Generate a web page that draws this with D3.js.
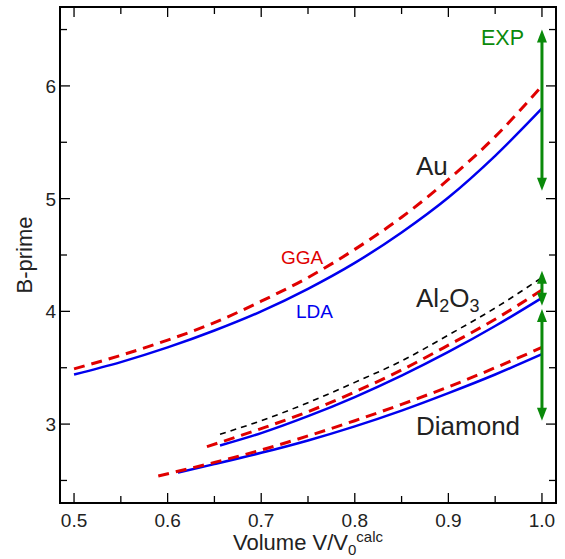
<!DOCTYPE html>
<html>
<head>
<meta charset="utf-8">
<style>
  body { margin: 0; background: #fff; font-family: "Liberation Sans", Arial, sans-serif; }
  .tick-label { font-size: 19px; fill: #222; }
  .axis-title { font-size: 22px; fill: #222; }
</style>
<script src="https://cdn.jsdelivr.net/npm/d3@7"></script>
</head>
<body>
<div id="chart"></div>
<script>
// values
const auX = [0.5, 0.55, 0.6, 0.65, 0.7, 0.75, 0.8, 0.85, 0.9, 0.95, 1.0];
const auLdaY = [3.44, 3.55, 3.68, 3.83, 4.00, 4.20, 4.43, 4.70, 5.01, 5.38, 5.80];
const auGgaY = [3.49, 3.61, 3.745, 3.90, 4.09, 4.30, 4.55, 4.835, 5.17, 5.55, 6.00];

const alLdaX = [0.656, 0.70, 0.75, 0.80, 0.85, 0.90, 0.95, 1.0];
const alLdaY = [2.81, 2.92, 3.07, 3.24, 3.43, 3.64, 3.87, 4.12];
const alGgaX = [0.642, 0.70, 0.75, 0.80, 0.85, 0.90, 0.95, 1.0];
const alGgaY = [2.80, 2.96, 3.11, 3.285, 3.48, 3.70, 3.93, 4.19];
const alBlackX = [0.656, 0.70, 0.75, 0.80, 0.85, 0.90, 0.95, 1.0];
const alBlackY = [2.91, 3.03, 3.19, 3.37, 3.56, 3.79, 4.03, 4.30];

const diaGgaX = [0.59, 0.65, 0.70, 0.75, 0.80, 0.85, 0.90, 0.95, 1.0];
const diaGgaY = [2.54, 2.66, 2.77, 2.895, 3.03, 3.175, 3.33, 3.50, 3.68];
const diaLdaX = [0.611, 0.65, 0.70, 0.75, 0.80, 0.85, 0.90, 0.95, 1.0];
const diaLdaY = [2.57, 2.645, 2.745, 2.855, 2.98, 3.12, 3.275, 3.44, 3.62];

// experimental ranges at V/V0 = 1 (Au, Al2O3, Diamond)
const expLow = [5.07, 4.05, 3.03];
const expHigh = [6.5, 4.36, 4.02];

const xTicks = [0.5, 0.6, 0.7, 0.8, 0.9, 1.0];
const yTicks = [3, 4, 5, 6];

const W = 565, H = 559;
const margin = {left: 60, right: 9, top: 7, bottom: 56};

const x = d3.scaleLinear().domain([0.485, 1.015]).range([margin.left, W - margin.right]);
const y = d3.scaleLinear().domain([2.3, 6.7]).range([H - margin.bottom, margin.top]);

const svg = d3.select('#chart').append('svg')
    .attr('width', W).attr('height', H);

const zip = (xs, ys) => xs.map((v, i) => [v, ys[i]]);
const line = d3.line().x(d => x(d[0])).y(d => y(d[1])).curve(d3.curveMonotoneX);

const blue = '#0000ee', red = '#e00000', green = '#0a8a0a';

const curves = [
  {pts: zip(alBlackX, alBlackY), color: '#000', w: 1.6, dash: '6,5'},
  {pts: zip(auX, auLdaY), color: blue, w: 2.5, dash: null},
  {pts: zip(auX, auGgaY), color: red, w: 3, dash: '11,7'},
  {pts: zip(alLdaX, alLdaY), color: blue, w: 2.5, dash: null},
  {pts: zip(alGgaX, alGgaY), color: red, w: 3, dash: '11,7'},
  {pts: zip(diaLdaX, diaLdaY), color: blue, w: 2.5, dash: null},
  {pts: zip(diaGgaX, diaGgaY), color: red, w: 3, dash: '11,7'}
];

svg.selectAll('path.curve').data(curves).enter().append('path')
    .attr('class', 'curve')
    .attr('d', d => line(d.pts))
    .attr('fill', 'none')
    .attr('stroke', d => d.color)
    .attr('stroke-width', d => d.w)
    .attr('stroke-dasharray', d => d.dash);

// EXP arrows
const headLen = 13, headW = 5;
expLow.forEach((lo, i) => {
  const hi = expHigh[i];
  const ax = x(1.0), yTop = y(hi), yBot = y(lo);
  svg.append('line')
      .attr('x1', ax).attr('x2', ax)
      .attr('y1', yTop + headLen - 1).attr('y2', yBot - headLen + 1)
      .attr('stroke', green).attr('stroke-width', 3);
  svg.append('path')
      .attr('d', `M${ax},${yTop}L${ax - headW},${yTop + headLen}L${ax + headW},${yTop + headLen}Z`)
      .attr('fill', green);
  svg.append('path')
      .attr('d', `M${ax},${yBot}L${ax - headW},${yBot - headLen}L${ax + headW},${yBot - headLen}Z`)
      .attr('fill', green);
});

// frame
const x0 = x.range()[0], x1 = x.range()[1], y0 = y.range()[0], y1 = y.range()[1];
svg.append('rect')
    .attr('x', x0).attr('y', y1)
    .attr('width', x1 - x0).attr('height', y0 - y1)
    .attr('fill', 'none').attr('stroke', '#000').attr('stroke-width', 2);

// ticks on all four sides, pointing inward
const xMinor = d3.range(0.5, 1.001, 0.05);
const yMinor = d3.range(2.5, 6.51, 0.5);
const tickG = svg.append('g').attr('stroke', '#000').attr('stroke-width', 1.3);
xMinor.forEach(v => {
  const major = Math.abs(v * 10 - Math.round(v * 10)) < 1e-6;
  const len = major ? 10 : 7;
  tickG.append('line').attr('x1', x(v)).attr('x2', x(v)).attr('y1', y0).attr('y2', y0 - len);
  tickG.append('line').attr('x1', x(v)).attr('x2', x(v)).attr('y1', y1).attr('y2', y1 + len);
});
yMinor.forEach(v => {
  const major = Math.abs(v - Math.round(v)) < 1e-6;
  const len = major ? 10 : 7;
  tickG.append('line').attr('x1', x0).attr('x2', x0 + len).attr('y1', y(v)).attr('y2', y(v));
  tickG.append('line').attr('x1', x1).attr('x2', x1 - len).attr('y1', y(v)).attr('y2', y(v));
});

// tick labels
svg.selectAll('text.xl').data(xTicks).enter().append('text')
    .attr('class', 'tick-label')
    .attr('x', d => x(d)).attr('y', 527)
    .attr('text-anchor', 'middle')
    .text(d => d.toFixed(1));
svg.selectAll('text.yl').data(yTicks).enter().append('text')
    .attr('class', 'tick-label')
    .attr('x', 56).attr('y', d => y(d) + 7)
    .attr('text-anchor', 'end')
    .text(d => d);

// axis titles
const xt = svg.append('text').attr('class', 'axis-title')
    .attr('x', (x0 + x1) / 2).attr('y', 550).attr('text-anchor', 'middle');
xt.append('tspan').text('Volume V/V');
xt.append('tspan').attr('font-size', 15).attr('dy', 5).text('0');
xt.append('tspan').attr('font-size', 15).attr('dy', -13).text('calc');

svg.append('text').attr('class', 'axis-title')
    .attr('transform', `translate(31.5,${(y0 + y1) / 2}) rotate(-90)`)
    .attr('text-anchor', 'middle')
    .text('B-prime');

// annotations
svg.append('text').attr('x', 481).attr('y', 45).attr('font-size', 21.5).attr('fill', green).text('EXP');
svg.append('text').attr('x', 281).attr('y', 264).attr('font-size', 19).attr('fill', red).text('GGA');
svg.append('text').attr('x', 296).attr('y', 318).attr('font-size', 19).attr('fill', blue).text('LDA');
svg.append('text').attr('x', 416).attr('y', 175).attr('font-size', 26).attr('fill', '#222').text('Au');
svg.append('text').attr('x', 416).attr('y', 435).attr('font-size', 26).attr('fill', '#222').text('Diamond');
const al = svg.append('text').attr('x', 416).attr('y', 306.5).attr('font-size', 26).attr('fill', '#222');
al.append('tspan').text('Al');
al.append('tspan').attr('font-size', 18).attr('dy', 5).text('2');
al.append('tspan').attr('dy', -5).text('O');
al.append('tspan').attr('font-size', 18).attr('dy', 5).text('3');
</script>
</body>
</html>
